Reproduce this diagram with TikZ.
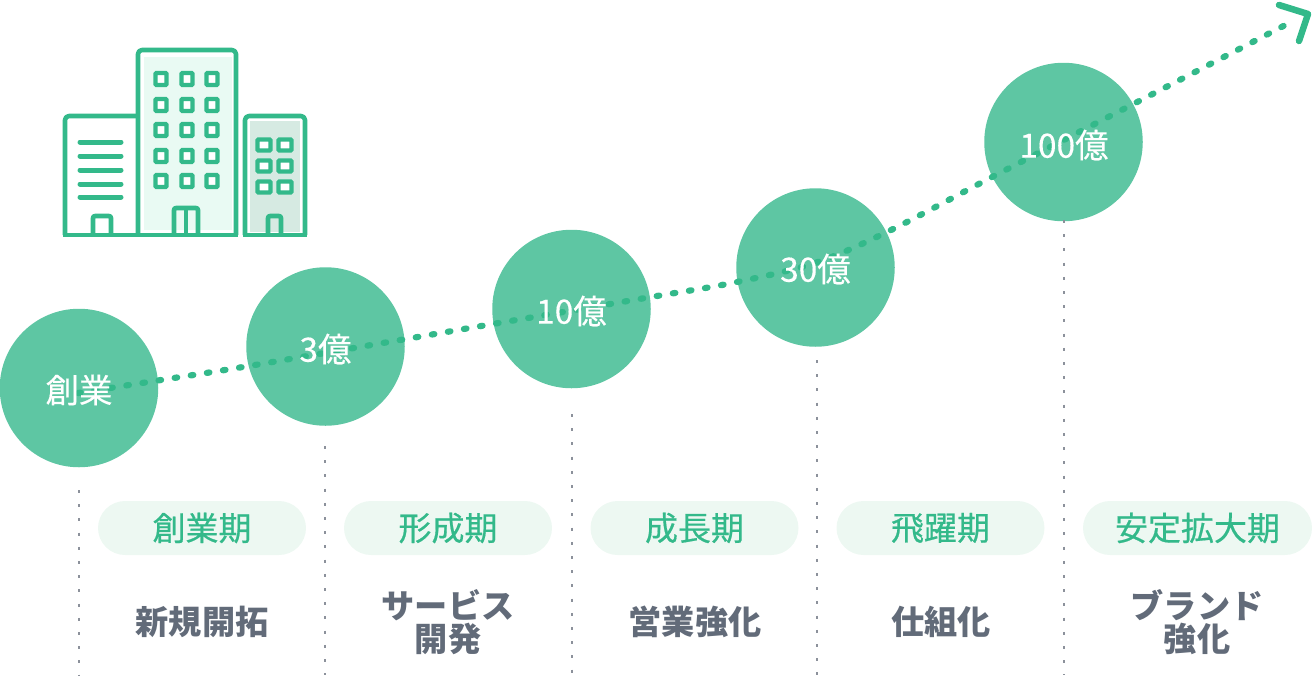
\documentclass[tikz,border=0pt]{standalone}
\usepackage{fontspec}
\setmainfont{Noto Sans CJK JP}
\newfontfamily\pillfont[FakeBold=0.5]{Noto Sans CJK JP}
\newfontfamily\circfont[FakeBold=0.25]{Noto Sans CJK JP}
\usetikzlibrary{calc}
\definecolor{grn}{HTML}{33B98A}
\definecolor{circ}{HTML}{5EC6A3}
\definecolor{pillc}{HTML}{EDF8F2}
\definecolor{inkc}{HTML}{626B79}
\definecolor{vline}{HTML}{8C919B}
\definecolor{midf}{HTML}{E9FAF3}
\definecolor{rgtf}{HTML}{D6EAE2}
\tikzset{
  x=1pt,y=-1pt,
  stage/.style={circle,fill=circ,minimum size=158.5pt,inner sep=0pt},
  stagetxt/.style={text=white,inner sep=0pt,font=\fontsize{33.5}{33}\circfont},
  pill/.style={rounded corners=27pt,fill=pillc,minimum height=54pt,inner sep=0pt,text=grn,font=\fontsize{33}{33}\pillfont},
  sublabel/.style={text=inkc,inner sep=0pt,align=center,font=\fontsize{33.2}{33}\selectfont\bfseries},
  vguide/.style={draw=vline,line width=2pt,dash pattern=on 3pt off 11.2pt},
  trend/.style={draw=grn,line width=6.2pt,line cap=round,dash pattern=on 2.6pt off 13.7pt},
  arrowhd/.style={draw=grn,line width=6.5pt,line cap=round,line join=round},
  bld/.style={draw=grn,line width=4.6pt,line join=round},
  win/.style={draw=grn,line width=4.4pt,fill=white,rounded corners=1pt},
}
\begin{document}
\begin{tikzpicture}
\useasboundingbox (0,0) rectangle (1312,675);
% building
\fill[midf] (144,57) rectangle (232,230);
\fill[rgtf] (250,121) rectangle (300,232);
\draw[bld,rounded corners=4pt] (65,235) -- (65,116) -- (138,116);
\draw[bld,rounded corners=4pt] (138,235) -- (138,50) -- (236,50) -- (236,235);
\draw[bld,rounded corners=4pt] (245,235) -- (245,116) -- (305,116) -- (305,235);
\draw[bld] (63,235) -- (238,235);
\draw[bld] (243,235) -- (307,235);
\foreach \yy in {142,156,170,184,197}
  \draw[draw=grn,line width=5pt,line cap=round] (80,\yy) -- (121,\yy);
\foreach \xx in {161,187,212}
  \foreach \yy in {79,105,130,156,181}
    \draw[win] (\xx-5.5,\yy-6) rectangle (\xx+5.5,\yy+6);
\foreach \xx in {264,285}
  \foreach \yy in {145,166,187}
    \draw[win] (\xx-6.5,\yy-5.5) rectangle (\xx+6.5,\yy+5.5);
\draw[bld,rounded corners=2pt] (93,235) -- (93,216) -- (111,216) -- (111,235);
\draw[bld,rounded corners=2pt] (174,235) -- (174,208) -- (198,208) -- (198,235);
\draw[bld] (186,208) -- (186,235);
\draw[bld,rounded corners=2pt] (268,235) -- (268,216) -- (281,216) -- (281,235);
% circles
\node[stage] (c1) at (79,388) {};
\node[stage] (c2) at (325.5,346.5) {};
\node[stage] (c3) at (571.5,309) {};
\node[stage] (c4) at (815.5,267.5) {};
\node[stage] (c5) at (1063.5,142) {};
% vertical guides
\coordinate (g1t) at (79,490);   \coordinate (g1b) at (79,675);
\coordinate (g2t) at (325,446);  \coordinate (g2b) at (325,675);
\coordinate (g3t) at (572,414);  \coordinate (g3b) at (572,675);
\coordinate (g4t) at (817,360);  \coordinate (g4b) at (817,675);
\coordinate (g5t) at (1064,220); \coordinate (g5b) at (1064,675);
\foreach \n in {1,...,5} \draw[vguide] (g\n t) -- (g\n b);
% trend
\coordinate (ts) at (78,393);
\coordinate (te) at (1293,21);
\draw[trend] plot[smooth,tension=0.55] coordinates {(ts) (161,380) (243,367) (406,339) (487,325) (651,297) (732,283) (815,263) (889,231) (994,176) (1143,99) (te)};
\coordinate (a1) at (1279,5);
\coordinate (a2) at (1308,14);
\coordinate (a3) at (1299,41);
\draw[arrowhd] (a1) -- (a2) -- (a3);
% circle texts
\node[stagetxt] (t1) at (79,390) {創業};
\node[stagetxt] (t2) at (325.5,349) {3億};
\node[stagetxt] (t3) at (571.5,311) {10億};
\node[stagetxt] (t4) at (815.5,269) {30億};
\node[stagetxt] (t5) at (1064,145) {100億};
% pills
\node[pill,minimum width=208pt] (p1) at (202,528) {創業期};
\node[pill,minimum width=208pt] (p2) at (448,528) {形成期};
\node[pill,minimum width=208pt] (p3) at (694.5,528) {成長期};
\node[pill,minimum width=208pt] (p4) at (940.5,528) {飛躍期};
\node[pill,minimum width=229pt] (p5) at (1197.5,528) {安定拡大期};
% sublabels
\node[sublabel] (s1) at (202,622) {新規開拓};
\node[sublabel] (s2) at (448,622) {サービス\\開発};
\node[sublabel] (s3) at (695,622) {営業強化};
\node[sublabel] (s4) at (941,622) {仕組化};
\node[sublabel] (s5) at (1197,622) {ブランド\\強化};
\end{tikzpicture}
\end{document}
